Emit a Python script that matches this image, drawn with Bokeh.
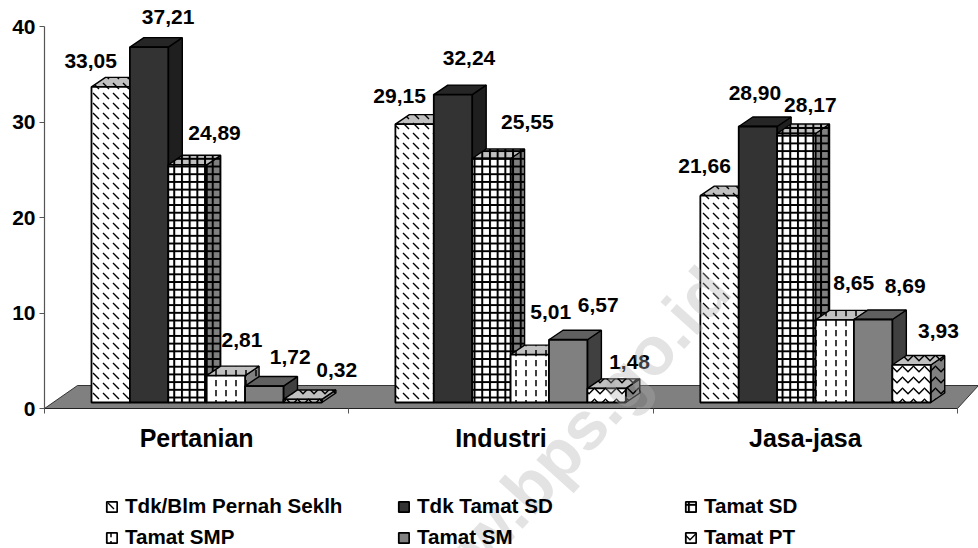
from bokeh.plotting import figure
from bokeh.models import (Range1d, LinearAxis, FixedTicker, Legend, LegendItem, Label)
from bokeh.core.properties import value
from bokeh.embed import file_html
from bokeh.resources import INLINE

# ---- data ----
categories = ["Pertanian", "Industri", "Jasa-jasa"]
series_names = ["Tdk/Blm Pernah Seklh", "Tdk Tamat SD", "Tamat SD",
                "Tamat SMP", "Tamat SM", "Tamat PT"]
tdk_blm = [33.05, 29.15, 21.66]
tdk_tamat_sd = [37.21, 32.24, 28.90]
tamat_sd = [24.89, 25.55, 28.17]
tamat_smp = [2.81, 5.01, 8.65]
tamat_sm = [1.72, 6.57, 8.69]
tamat_pt = [0.32, 1.48, 3.93]
y_ticks = [0, 10, 20, 30, 40]
series_values = [tdk_blm, tdk_tamat_sd, tamat_sd, tamat_smp, tamat_sm, tamat_pt]

# ---- layout (pixels / projection) ----
FONT = "Liberation Sans"
PX_X = 304.33          # pixels per category
PX_Y = 9.55            # pixels per value unit
W = 978
H = 548
AX_L = 44              # pixel column of the value axis
AX_B = 408             # pixel row of the category axis
BASE = 6 / PX_Y        # bars stand on the floor, above the axis line
DX = 14 / PX_X         # depth of the 3-D bars
DY = 9.5 / PX_Y
BW = 38.4 / PX_X
G0 = [0.1544, 1.153, 2.155]

styles = [
    dict(front="#ffffff", top="#c0c0c0", side="#808080", hatch="left_diagonal_dash", hs=10, hw=1.4),
    dict(front="#333333", top="#262626", side="#1f1f1f", hatch=None),
    dict(front="#ffffff", top="#c0c0c0", side="#808080", hatch="cross", hs=7.7, hw=2),
    dict(front="#ffffff", top="#c0c0c0", side="#808080", hatch="vertical_dash", hs=10, hw=1.5),
    dict(front="#808080", top="#606060", side="#404040", hatch=None),
    dict(front="#ffffff", top="#c0c0c0", side="#808080", hatch="horizontal_wave", hs=11, hw=1.5),
]
# pixel offsets of the value labels from each bar's top centre, per series then group
label_dx = [[-20, -15, -15], [19, 16, -3], [27, 36, 14], [16, 21, 19], [26, 30, 32], [34, 23, 27]]
label_dy = [[-26, -28, -30], [-30, -37, -34], [-32, -36, -28], [-36, -43, -37], [-29, -35, -34], [-29, -26, -34]]

p = figure(width=W, height=H, output_backend="svg", toolbar_location=None,
           x_range=Range1d(-AX_L / PX_X, (W - AX_L) / PX_X),
           y_range=Range1d((AX_B - H) / PX_Y, AX_B / PX_Y),
           x_axis_type=None, y_axis_type=None,
           min_border_left=0, min_border_right=0, min_border_top=0, min_border_bottom=0)
p.outline_line_color = None
p.grid.visible = False
p.background_fill_color = "#ffffff"
p.border_fill_color = "#ffffff"

# floor
p.patch([0, 33 / PX_X, (W - AX_L) / PX_X, 3.0], [0, 23 / PX_Y, 23 / PX_Y, 0],
        fill_color="#808080", line_color="#333333", line_width=1)

renderers = []
for s, vals in enumerate(series_values):
    st = styles[s]
    hatch = dict(hatch_pattern=st["hatch"], hatch_scale=st["hs"], hatch_weight=st["hw"],
                 hatch_color="#000000") if st["hatch"] else {}
    lefts = [g + s * BW for g in G0]
    tops_y = [BASE + v for v in vals]
    # side faces
    p.patches([[l + BW, l + BW + DX, l + BW + DX, l + BW] for l in lefts],
              [[BASE, BASE + DY, t + DY, t] for t in tops_y],
              fill_color=st["side"], line_color="#000000", line_width=1.4, **hatch)
    # top faces
    p.patches([[l, l + DX, l + BW + DX, l + BW] for l in lefts],
              [[t, t + DY, t + DY, t] for t in tops_y],
              fill_color=st["top"], line_color="#000000", line_width=1.4, **hatch)
    # front faces
    r = p.quad(left=lefts, right=[l + BW for l in lefts], bottom=[BASE] * 3, top=tops_y,
               fill_color=st["front"], line_color="#000000", line_width=1.8, **hatch)
    renderers.append(r)

# value labels
for s, vals in enumerate(series_values):
    p.text(x=[g + (s + 0.5) * BW for g in G0], y=[BASE + v for v in vals],
           text=[f"{v:.2f}".replace(".", ",") for v in vals],
           x_offset=label_dx[s], y_offset=label_dy[s],
           text_font=value(FONT), text_font_style="bold", text_font_size="21px",
           text_color="#000000", text_align="center", text_baseline="middle")

# axes
yax = LinearAxis(ticker=FixedTicker(ticks=y_ticks), bounds=(0, 40), fixed_location=0,
                 major_label_text_font=FONT, major_label_text_font_style="bold",
                 major_label_text_font_size="21px", major_label_text_color="#000000",
                 axis_line_color="#555555", axis_line_width=1.2,
                 major_tick_line_color="#555555", major_tick_in=0, major_tick_out=5,
                 minor_tick_line_color=None, major_label_standoff=4)
p.add_layout(yax, "left")

xticks = LinearAxis(ticker=FixedTicker(ticks=[0, 1, 2, 3]), bounds=(0, 3), fixed_location=0,
                    major_label_overrides={0: "", 1: "", 2: "", 3: ""},
                    major_label_text_font_size="1px", major_label_standoff=0,
                    axis_line_color="#222222", axis_line_width=1.2,
                    major_tick_line_color="#555555", major_tick_in=0, major_tick_out=5,
                    minor_tick_line_color=None)
p.add_layout(xticks, "below")
xlabels = LinearAxis(ticker=FixedTicker(ticks=[0.5, 1.5, 2.5]), fixed_location=0,
                     major_label_overrides={0.5: categories[0], 1.5: categories[1], 2.5: categories[2]},
                     major_label_text_font=FONT, major_label_text_font_style="bold",
                     major_label_text_font_size="25px", major_label_text_color="#000000",
                     major_label_standoff=9, axis_line_color=None, major_tick_line_color=None,
                     minor_tick_line_color=None)
p.add_layout(xlabels, "below")

# legend: three independent columns
columns = [(0, 3, 105), (1, 4, 397), (2, 5, 684)]
for a, b, lx in columns:
    leg = Legend(items=[LegendItem(label=value(series_names[a]), renderers=[renderers[a]]),
                        LegendItem(label=value(series_names[b]), renderers=[renderers[b]])],
                 location=(lx, -1), orientation="vertical",
                 background_fill_alpha=0, border_line_color=None, padding=0, margin=0,
                 glyph_width=13, glyph_height=13, label_standoff=7, spacing=7,
                 label_text_font=FONT, label_text_font_style="bold",
                 label_text_font_size="20.6px", label_text_color="#000000",
                 label_height=24)
    p.add_layout(leg)

# watermark
p.add_layout(Label(x=(716 - AX_L) / PX_X, y=(AX_B - 277) / PX_Y, text="www.bps.go.id", angle=48,
                   angle_units="deg", text_align="right", text_baseline="middle",
                   text_font=FONT, text_font_style="bold", text_font_size="68px",
                   text_color="#b0b0b0", text_alpha=0.35))

open("out.html", "w").write(file_html(p, INLINE))
